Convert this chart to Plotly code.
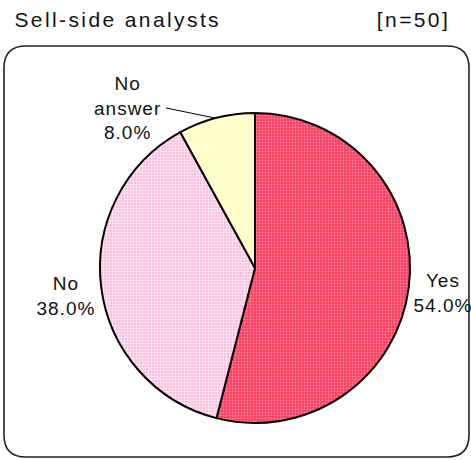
import plotly.graph_objects as go

# Survey answers, sell-side analysts (n=50)
labels = ["Yes", "No", "No answer"]
shares = [54.0, 38.0, 8.0]
slice_colors = ["#FF3A5C", "#FFBCDD", "#FFFFCC"]
dot_colors = ["#FF8AA2", "#FFFFFF", "#FFFFCC"]
label_text = ["Yes<br>54.0%", "No<br>38.0%", "No<br>answer<br>8.0%"]
title_text = "Sell-side analysts"
sample_text = "[n=50]"

W, H = 471, 460


def px(x):
    return x / W


def py(y):
    return 1 - y / H


font = dict(family="Liberation Sans, Arial, sans-serif", color="#111111")

fig = go.Figure(
    go.Pie(
        labels=labels,
        values=shares,
        sort=False,
        direction="clockwise",
        rotation=0,
        textinfo="none",
        hoverinfo="label+percent",
        showlegend=False,
        marker=dict(
            colors=slice_colors,
            line=dict(color="#000000", width=2),
            pattern=dict(shape=".", size=3, solidity=0.35,
                         fgcolor=dot_colors, bgcolor=slice_colors),
        ),
        domain=dict(x=[px(100), px(410)], y=[py(423), py(113)]),
    )
)

# slice labels placed around the pie
label_pos = [(443, 293), (66, 296), (128, 108)]
annotations = []
for txt, (x, y) in zip(label_text, label_pos):
    annotations.append(dict(
        text=txt, x=px(x), y=py(y), xref="paper", yref="paper",
        xanchor="center", yanchor="middle", showarrow=False,
        align="center", font=dict(size=19, **font),
    ))

# heading texts, centred so the widened tracking grows evenly
annotations.append(dict(
    text=title_text, x=px(117), y=py(20), xref="paper", yref="paper",
    xanchor="center", yanchor="middle", showarrow=False,
    font=dict(size=21, **font),
))
annotations.append(dict(
    text=sample_text, x=px(413), y=py(20), xref="paper", yref="paper",
    xanchor="center", yanchor="middle", showarrow=False,
    font=dict(size=21, **font),
))

# rounded frame around the pie panel
x0, x1, y0, y1, r = 4, 469, 46, 457, 22
frame = (
    f"M {px(x0)},{py(y0 + r)} "
    f"Q {px(x0)},{py(y0)} {px(x0 + r)},{py(y0)} "
    f"L {px(x1 - r)},{py(y0)} "
    f"Q {px(x1)},{py(y0)} {px(x1)},{py(y0 + r)} "
    f"L {px(x1)},{py(y1 - r)} "
    f"Q {px(x1)},{py(y1)} {px(x1 - r)},{py(y1)} "
    f"L {px(x0 + r)},{py(y1)} "
    f"Q {px(x0)},{py(y1)} {px(x0)},{py(y1 - r)} Z"
)

shapes = [
    dict(type="path", path=frame, xref="paper", yref="paper",
         line=dict(color="#222222", width=1.6), layer="below"),
    # leader line for the small "No answer" slice
    dict(type="line", xref="paper", yref="paper",
         x0=px(166), y0=py(108), x1=px(215), y1=py(118),
         line=dict(color="#000000", width=1)),
]

fig.update_layout(
    width=W, height=H,
    margin=dict(l=0, r=0, t=0, b=0),
    paper_bgcolor="#FFFFFF",
    plot_bgcolor="#FFFFFF",
    annotations=annotations,
    shapes=shapes,
)

# widen the tracking of the heading text
post = """
document.querySelectorAll('.annotation-text').forEach(function(t){
  var s = t.textContent;
  if (s === 'Sell-side analysts' || s === '[n=50]') {
    t.style.letterSpacing = '2.4px';
  } else {
    t.style.letterSpacing = '1px';
  }
});
"""

fig.write_html("out.html", post_script=post)
